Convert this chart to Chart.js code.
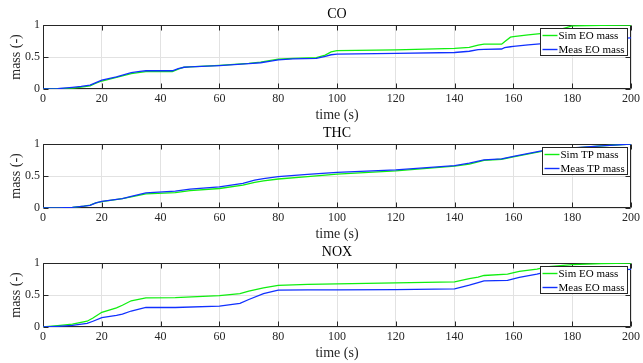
<!DOCTYPE html>
<html><head><meta charset="utf-8">
<script src="https://cdn.jsdelivr.net/npm/chart.js@4/dist/chart.umd.min.js"></script>
<style>
html,body{margin:0;padding:0;background:#fff;}
#wrap{position:relative;width:643px;height:363px;overflow:hidden;background:#fff;}
canvas{position:absolute;left:0;}
</style></head><body>
<div id="wrap">
<canvas id="c1" width="643" height="125" style="top:0px"></canvas>
<canvas id="c2" width="643" height="125" style="top:119px"></canvas>
<canvas id="c3" width="643" height="125" style="top:238px"></canvas>
</div>
<script>
// ---- data ----
const xTicks = [0,20,40,60,80,100,120,140,160,180,200];
const yTicks = [0,0.5,1];
const yTickLabels = ['0','0.5','1'];

const coTitle = 'CO';
const coLabels = ['Sim EO mass','Meas EO mass'];
const coTime = [0,5,10,13,16,18,20,25,30,33,35,40,44,46,48,50,60,70,74,78,80,85,93,96,98,100,120,140,145,148,150,156,157,159,160,165,170,175,178,180,190,200];
const coSim  = [0,0.005,0.015,0.03,0.05,0.09,0.125,0.18,0.24,0.26,0.27,0.27,0.27,0.31,0.34,0.345,0.37,0.40,0.42,0.45,0.465,0.48,0.49,0.53,0.58,0.60,0.61,0.635,0.65,0.685,0.70,0.70,0.74,0.81,0.82,0.845,0.87,0.92,0.96,0.985,0.995,1.0];
const coMeas = [0,0.005,0.025,0.04,0.06,0.10,0.14,0.19,0.255,0.275,0.285,0.285,0.285,0.32,0.34,0.345,0.365,0.395,0.41,0.44,0.455,0.47,0.48,0.51,0.535,0.545,0.557,0.57,0.59,0.615,0.62,0.625,0.645,0.66,0.665,0.69,0.71,0.73,0.745,0.755,0.78,0.80];

const thcTitle = 'THC';
const thcLabels = ['Sim TP mass','Meas TP mass'];
const thcTime = [0,5,10,14,16,18,20,27,30,35,45,50,60,68,72,75,80,90,100,120,140,145,150,156,160,170,175,180,190,200];
const thcSim  = [0,0.002,0.01,0.03,0.045,0.08,0.10,0.145,0.175,0.22,0.24,0.27,0.305,0.358,0.40,0.425,0.453,0.49,0.53,0.58,0.653,0.685,0.745,0.762,0.80,0.89,0.915,0.935,0.97,1.0];
const thcMeas = [0,0.002,0.01,0.03,0.042,0.08,0.105,0.147,0.18,0.237,0.263,0.295,0.33,0.384,0.437,0.46,0.49,0.526,0.558,0.595,0.663,0.70,0.753,0.768,0.805,0.895,0.92,0.94,0.97,1.0];

const noxTitle = 'NOX';
const noxLabels = ['Sim EO mass','Meas EO mass'];
const noxTime = [0,5,10,15,17,20,25,27,30,35,45,60,67,70,75,80,90,100,120,140,145,148,150,158,162,168,172,180,190,200];
const noxSim  = [0,0.02,0.045,0.09,0.14,0.23,0.30,0.34,0.41,0.455,0.46,0.49,0.52,0.56,0.61,0.65,0.665,0.675,0.69,0.705,0.755,0.78,0.805,0.825,0.87,0.905,0.945,0.975,0.99,1.0];
const noxMeas = [0,0.01,0.025,0.055,0.09,0.145,0.18,0.20,0.25,0.305,0.305,0.325,0.37,0.43,0.52,0.575,0.58,0.58,0.585,0.595,0.655,0.695,0.72,0.73,0.775,0.825,0.87,0.885,0.89,0.90];

// ---- styling ----
const SERIF = '"Liberation Serif", "Times New Roman", serif';
const GREEN = '#10ee10';
const BLUE = '#1030ff';
const AX = '#262626';

const framePlugin = {
  id: 'frame',
  beforeDatasetsDraw(chart) {
    const {ctx, chartArea: a, scales} = chart;
    ctx.save();
    ctx.strokeStyle = AX;
    ctx.lineWidth = 1;
    ctx.beginPath();
    const L = Math.round(a.left)+0.5, R = Math.round(a.right)-0.5, T = Math.round(a.top)+0.5, B = Math.round(a.bottom)-0.5;
    ctx.rect(L, T, R-L, B-T);
    xTicks.forEach(v => {
      const x = Math.round(scales.x.getPixelForValue(v))+0.5;
      ctx.moveTo(x, B); ctx.lineTo(x, B-5);
      ctx.moveTo(x, T); ctx.lineTo(x, T+5);
    });
    yTicks.forEach(v => {
      const y = Math.round(scales.y.getPixelForValue(v))+0.5;
      ctx.moveTo(L, y); ctx.lineTo(L+5, y);
      ctx.moveTo(R, y); ctx.lineTo(R-5, y);
    });
    ctx.stroke();
    ctx.restore();
  },
  afterDraw(chart) {
    const {ctx, chartArea: a} = chart;
    const t = chart.options.plugins.frame.title;
    ctx.save();
    ctx.fillStyle = '#000';
    ctx.font = '14px ' + SERIF;
    ctx.textAlign = 'center';
    ctx.textBaseline = 'middle';
    ctx.fillText(t, (a.left + a.right)/2, 14);
    // legend inside top-right
    const ds = chart.data.datasets;
    ctx.font = '11px ' + SERIF;
    let mw = 0;
    ds.forEach(d => { mw = Math.max(mw, ctx.measureText(d.label).width); });
    const w = Math.round(18 + mw + 3), h = 27;
    const right = Math.round(a.right) - 3.5;
    const left = right - w;
    const top = Math.round(a.top) + 3.5;
    ctx.fillStyle = '#fff';
    ctx.fillRect(left, top, w, h);
    ctx.strokeStyle = AX;
    ctx.lineWidth = 1;
    ctx.strokeRect(left, top, w, h);
    ds.forEach((d, i) => {
      const y = top + 7 + i*14;
      ctx.strokeStyle = d.borderColor;
      ctx.lineWidth = 1.4;
      ctx.beginPath();
      ctx.moveTo(left + 2, y); ctx.lineTo(left + 17, y);
      ctx.stroke();
      ctx.fillStyle = '#000';
      ctx.textAlign = 'left';
      ctx.textBaseline = 'middle';
      ctx.fillText(d.label, left + 18, y + 0.5);
    });
    ctx.restore();
  }
};

function makeChart(id, title, labels, time, sim, meas) {
  const simPts = time.map((t, i) => ({x: t, y: sim[i]}));
  const measPts = time.map((t, i) => ({x: t, y: meas[i]}));
  return new Chart(document.getElementById(id), {
    type: 'line',
    data: {
      datasets: [
        {label: labels[0], data: simPts, borderColor: GREEN, borderWidth: 1.3, pointRadius: 0, tension: 0, fill: false, order: 1},
        {label: labels[1], data: measPts, borderColor: BLUE, borderWidth: 1.3, pointRadius: 0, tension: 0, fill: false, order: 0}
      ]
    },
    plugins: [framePlugin],
    options: {
      responsive: false,
      animation: false,
      devicePixelRatio: 1,
      layout: {padding: {left: 0, right: 11, top: 25, bottom: 0}},
      plugins: {
        legend: {display: false},
        title: {display: false},
        tooltip: {enabled: false},
        frame: {title: title}
      },
      scales: {
        x: {
          type: 'linear', min: 0, max: 200,
          afterFit: s => { s.height = 36; },
          afterBuildTicks: s => { s.ticks = xTicks.map(v => ({value: v})); },
          ticks: {font: {family: SERIF, size: 12}, color: '#262626', padding: 3, maxRotation: 0, autoSkip: false,
                  callback: v => String(v)},
          grid: {color: '#e2e2e2', lineWidth: 1, drawTicks: false},
          border: {display: false},
          title: {display: true, text: 'time (s)', font: {family: SERIF, size: 14}, color: '#262626', padding: {top: 0, bottom: 1.6}}
        },
        y: {
          type: 'linear', min: 0, max: 1,
          afterFit: s => { s.width = 43; },
          afterBuildTicks: s => { s.ticks = yTicks.map(v => ({value: v})); },
          ticks: {font: {family: SERIF, size: 12}, color: '#262626', padding: 3,
                  callback: v => { const i = yTicks.indexOf(v); return i >= 0 ? yTickLabels[i] : String(v); }},
          grid: {color: '#e2e2e2', lineWidth: 1, drawTicks: false},
          border: {display: false},
          title: {display: true, text: 'mass (-)', font: {family: SERIF, size: 14}, color: '#262626', padding: {top: 7.6, bottom: 0}}
        }
      }
    }
  });
}

makeChart('c1', coTitle, coLabels, coTime, coSim, coMeas);
makeChart('c2', thcTitle, thcLabels, thcTime, thcSim, thcMeas);
makeChart('c3', noxTitle, noxLabels, noxTime, noxSim, noxMeas);
</script>
</body></html>
